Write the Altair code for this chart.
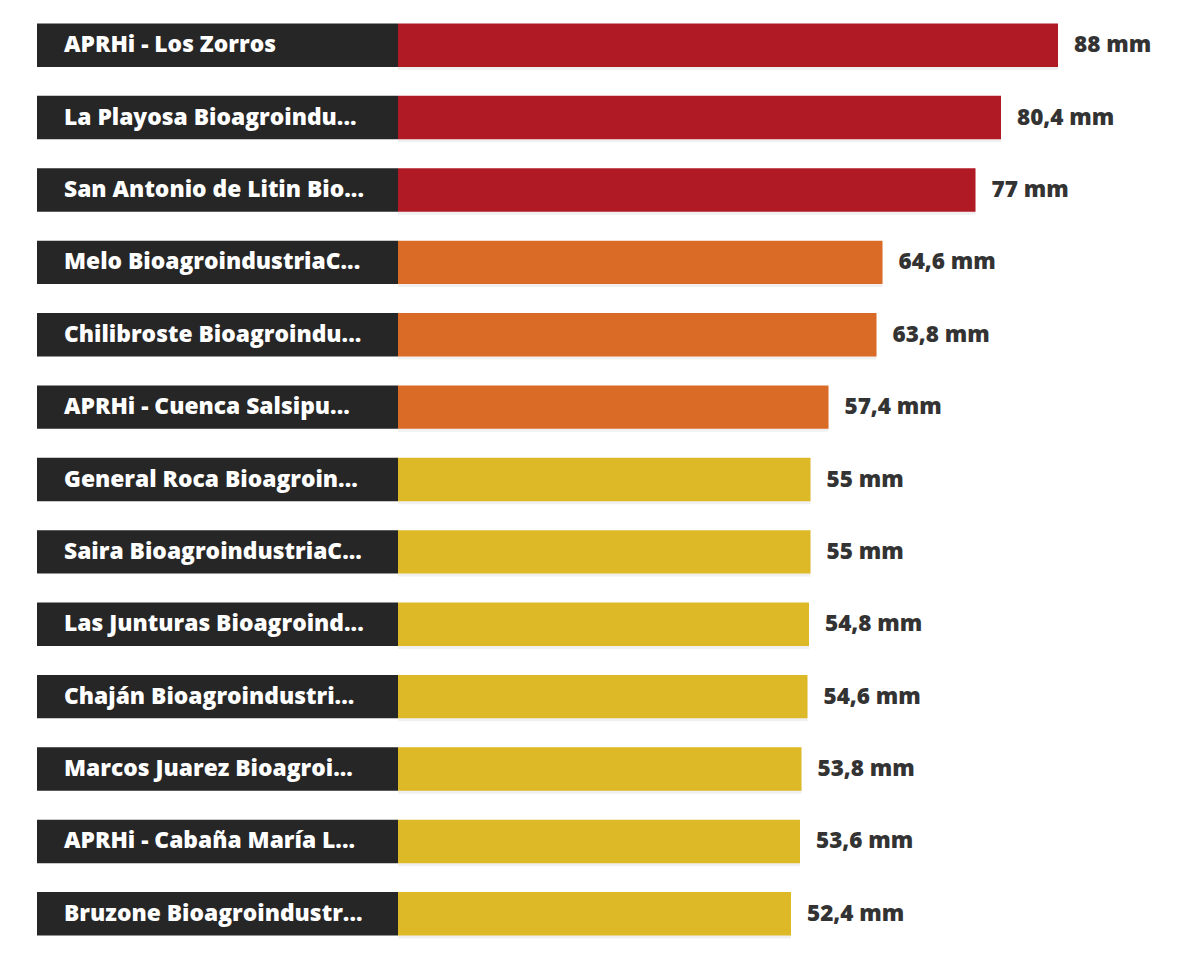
import altair as alt
import pandas as pd

labels = [
    "APRHi - Los Zorros",
    "La Playosa Bioagroindu...",
    "San Antonio de Litin Bio...",
    "Melo BioagroindustriaC...",
    "Chilibroste Bioagroindu...",
    "APRHi - Cuenca Salsipu...",
    "General Roca Bioagroin...",
    "Saira BioagroindustriaC...",
    "Las Junturas Bioagroind...",
    "Chaján Bioagroindustri...",
    "Marcos Juarez Bioagroi...",
    "APRHi - Cabaña María L...",
    "Bruzone Bioagroindustr...",
]
values = [88, 80.4, 77, 64.6, 63.8, 57.4, 55, 55, 54.8, 54.6, 53.8, 53.6, 52.4]
levels = ["alto", "alto", "alto", "medio", "medio", "medio",
          "bajo", "bajo", "bajo", "bajo", "bajo", "bajo", "bajo"]
value_text = ["88 mm", "80,4 mm", "77 mm", "64,6 mm", "63,8 mm", "57,4 mm", "55 mm",
              "55 mm", "54,8 mm", "54,6 mm", "53,8 mm", "53,6 mm", "52,4 mm"]

df = pd.DataFrame({
    "estacion": labels,
    "valor": values,
    "nivel": levels,
    "texto": value_text,
})

FONT = "Open Sans"
BOX_W = 361

y_enc = alt.Y("estacion:N", sort=labels, axis=None,
              scale=alt.Scale(paddingInner=0.4, paddingOuter=0.2))
x_scale = alt.Scale(domain=[0, 100], range=[BOX_W, BOX_W + 750])
x_enc = alt.X("valor:Q", scale=x_scale, axis=None)

base = alt.Chart(df)

shadow = base.mark_bar(color="#000000", opacity=0.06, yOffset=3).encode(
    y=y_enc,
    x=x_enc,
    x2=alt.value(0),
)

box = base.mark_bar(color="#262626").encode(
    y=y_enc,
    x=alt.value(0),
    x2=alt.value(BOX_W),
)

bars = base.mark_bar().encode(
    y=y_enc,
    x=x_enc,
    x2=alt.value(BOX_W),
    color=alt.Color("nivel:N", legend=None,
                    scale=alt.Scale(domain=["alto", "medio", "bajo"],
                                    range=["#B01A24", "#DA6B27", "#DDB927"])),
)

names = base.mark_text(align="left", baseline="middle", font=FONT, fontSize=22.8,
                       fontWeight=800, color="#FFFFFF").encode(
    y=y_enc,
    x=alt.value(27),
    text="estacion:N",
)

vals = base.mark_text(align="left", baseline="middle", font=FONT, fontSize=22.5,
                      fontWeight=800, color="#333333", dx=16).encode(
    y=y_enc,
    x=x_enc,
    text="texto:N",
)

chart = alt.layer(shadow, box, bars, names, vals).properties(
    width=1163,
    height=941,
    padding={"left": 37, "top": 9, "right": 0, "bottom": 0},
    autosize=alt.AutoSizeParams(type="none"),
    background="#FFFFFF",
).configure_view(stroke=None, strokeWidth=0)

chart.save("out.html", embed_options={"renderer": "svg", "actions": False})
